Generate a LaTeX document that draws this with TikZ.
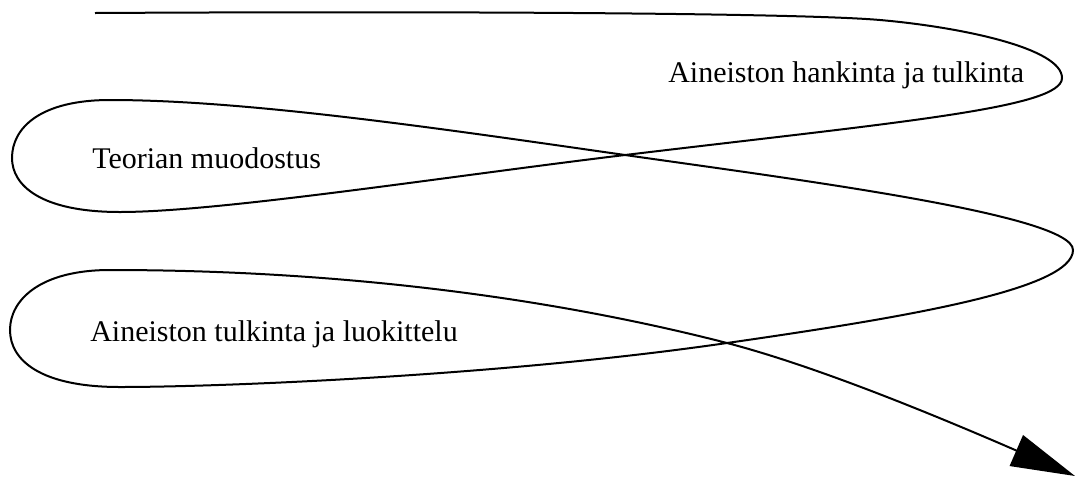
\documentclass[tikz,border=0pt]{standalone}
\usepackage{fontspec}
\setmainfont{Liberation Serif}
\usetikzlibrary{arrows.meta}
\begin{document}
\begin{tikzpicture}[x=0.75pt,y=-0.75pt,
  label/.style={inner sep=0pt,anchor=base west,font=\fontsize{22.5}{27}\selectfont},
  flow/.style={line width=1.5pt,-{Triangle[length=48pt,width=25pt]}}]
\useasboundingbox (0,0) rectangle (1075,476);
% stage labels
\node[label] (hankinta) at (668,82) {Aineiston hankinta ja tulkinta};
\node[label] (teoria) at (92,168) {Teorian muodostus};
\node[label] (luokittelu) at (90,341) {Aineiston tulkinta ja luokittelu};
% ends and crossings of the winding process line
\coordinate (start) at (95,13);
\coordinate (cross1) at (625,155);
\coordinate (cross2) at (727,343);
\coordinate (end) at (1075,476);
\draw[flow] (start)
  .. controls (450,11) and (800,13) .. (880,20)
  .. controls (960,27) and (1062,48) .. (1062,78)
  .. controls (1062,108) and (900,122) .. (cross1)
  .. controls (450,176) and (220,212) .. (120,212)
  .. controls (40,212) and (12,185) .. (12,158)
  .. controls (12,128) and (40,100) .. (110,100)
  .. controls (250,100) and (450,130) .. (cross1)
  .. controls (800,180) and (1073,215) .. (1073,250)
  .. controls (1073,290) and (900,318) .. (cross2)
  .. controls (500,376) and (220,387) .. (120,387)
  .. controls (40,387) and (10,360) .. (10,330)
  .. controls (10,300) and (40,270) .. (110,270)
  .. controls (350,270) and (560,300) .. (cross2)
  .. controls (800,362) and (900,400) .. (end);
\end{tikzpicture}
\end{document}
